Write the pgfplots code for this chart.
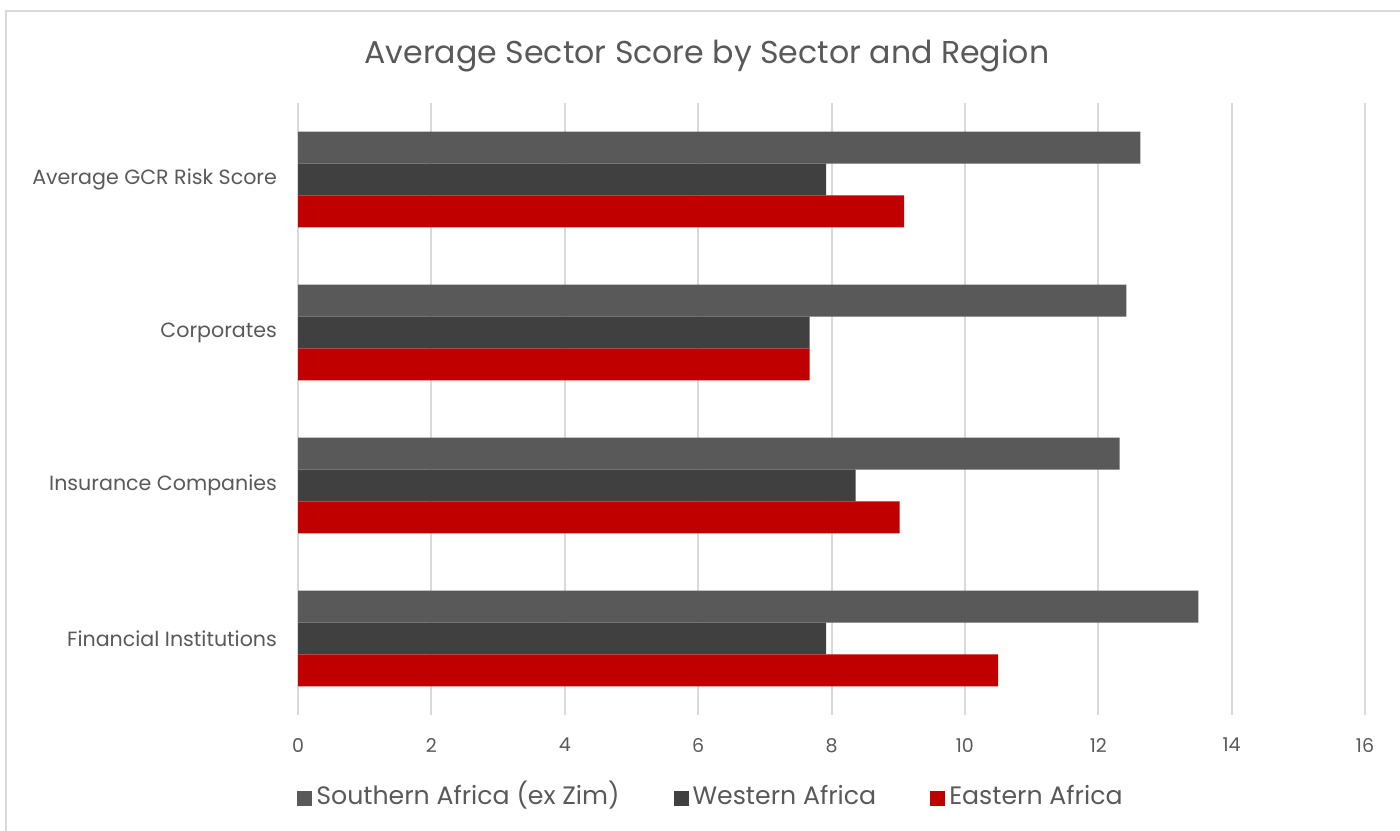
\documentclass[border=0pt]{standalone}
\usepackage{fontspec}
\setmainfont{Poppins}
\usepackage{pgfplots}
\usepackage{pgfplotstable}
\pgfplotsset{compat=1.18}
\definecolor{south}{HTML}{595959}
\definecolor{west}{HTML}{404040}
\definecolor{east}{HTML}{C00000}
\definecolor{gridc}{HTML}{D9D9D9}
\definecolor{txt}{HTML}{595959}
\pgfplotstableread{
y south west east
0 13.50 7.92 10.50
1 12.32 8.36 9.02
2 12.42 7.67 7.67
3 12.63 7.92 9.09
}\data
\begin{document}
\begin{tikzpicture}
\useasboundingbox (0,0) rectangle (700pt,415pt);
\draw[gridc, line width=1pt] (3pt,-5pt) -- (3pt,409.5pt) -- (705pt,409.5pt);
\node[font=\fontsize{15.8}{19}\selectfont, text=txt] at (353.5pt,387pt) {Average Sector Score by Sector and Region};
\begin{axis}[
  at={(149pt,57.5pt)}, anchor=south west,
  scale only axis, width=533.5pt, height=306pt,
  xmin=0, xmax=16, ymin=-0.5, ymax=3.5,
  xtick={0,2,...,16},
  ytick={0,1,2,3},
  yticklabels={Financial Institutions, Insurance Companies, Corporates, Average GCR Risk Score},
  axis line style={draw=none},
  major tick length=0pt,
  xmajorgrids, major grid style={gridc, line width=1pt},
  ticklabel style={text=txt},
  xticklabel style={font=\fontsize{9.5}{11}\selectfont, yshift=-8pt},
  yticklabel style={font=\fontsize{10.3}{12}\selectfont, xshift=-7pt},
  /pgf/number format/assume math mode=true,
  legend columns=-1,
  legend style={at={(0.388,-0.137)}, anchor=center, draw=none, fill=none,
    font=\fontsize{12.6}{14}\selectfont, text=txt,
    /tikz/every even column/.append style={column sep=25pt},
    inner sep=0pt, nodes={inner xsep=2pt, text height=9pt, text depth=3pt}},
  legend image code/.code={\fill[#1] (0pt,-3.75pt) rectangle (7.5pt,3.75pt);},
]
\addplot[xbar, bar width=0.209, bar shift=0.209, fill=south, draw=none] table[x=south,y=y]{\data};
\addlegendentry{Southern Africa (ex Zim)}
\addplot[xbar, bar width=0.209, bar shift=0, fill=west, draw=none] table[x=west,y=y]{\data};
\addlegendentry{Western Africa}
\addplot[xbar, bar width=0.209, bar shift=-0.209, fill=east, draw=none] table[x=east,y=y]{\data};
\addlegendentry{Eastern Africa}
\end{axis}
\end{tikzpicture}
\end{document}
